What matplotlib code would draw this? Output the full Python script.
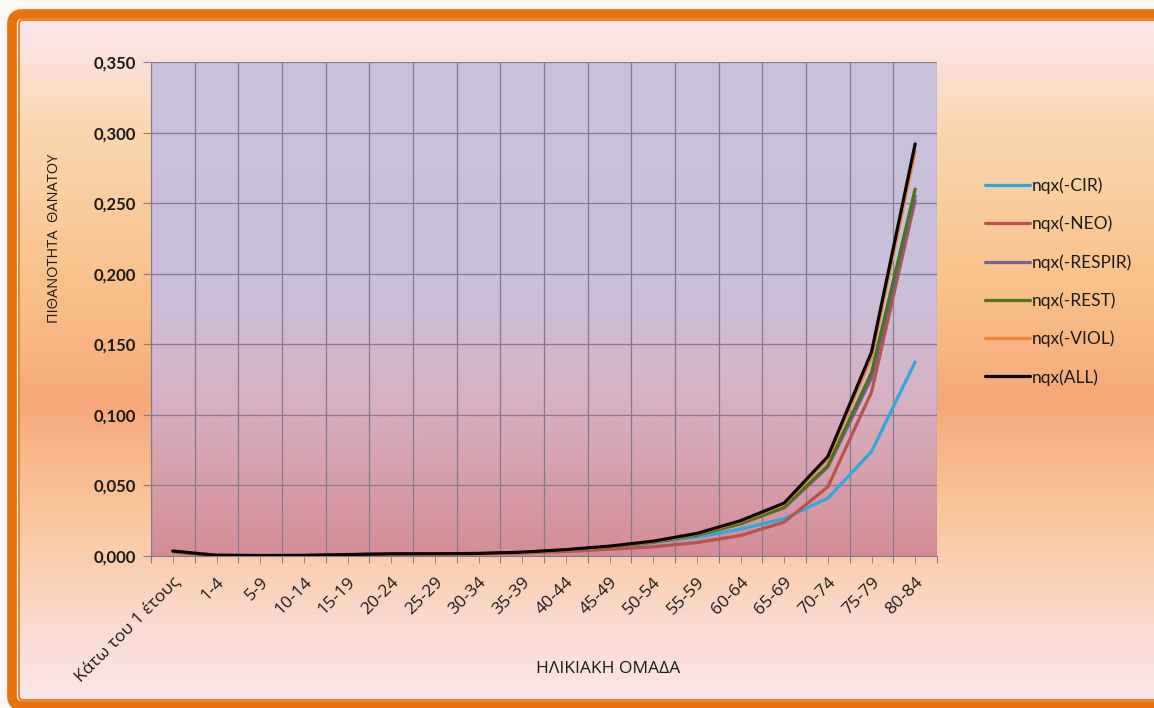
import numpy as np
import matplotlib
matplotlib.use("Agg")
import matplotlib.pyplot as plt
from matplotlib.colors import LinearSegmentedColormap
from matplotlib.patches import FancyBboxPatch

# ---------------- data ----------------
categories = ["Κάτω του 1 έτους", "1-4", "5-9", "10-14", "15-19", "20-24", "25-29",
              "30-34", "35-39", "40-44", "45-49", "50-54", "55-59", "60-64",
              "65-69", "70-74", "75-79", "80-84"]
cir = [0.0034, 0.0005, 0.0003, 0.0004, 0.0010, 0.0015, 0.0016, 0.0017, 0.0023,
       0.0038, 0.0060, 0.0095, 0.0135, 0.0190, 0.0265, 0.0410, 0.0740, 0.1375]
neo = [0.0034, 0.0004, 0.0002, 0.0003, 0.0009, 0.0014, 0.0015, 0.0016, 0.0022,
       0.0032, 0.0048, 0.0065, 0.0095, 0.0145, 0.0240, 0.0490, 0.1160, 0.2520]
respir = [0.0034, 0.0005, 0.0003, 0.0004, 0.0010, 0.0015, 0.0016, 0.0018, 0.0026,
          0.0043, 0.0066, 0.0099, 0.0150, 0.0232, 0.0340, 0.0630, 0.1260, 0.2550]
rest = [0.0030, 0.0004, 0.0002, 0.0003, 0.0009, 0.0014, 0.0015, 0.0017, 0.0025,
        0.0042, 0.0065, 0.0098, 0.0148, 0.0228, 0.0345, 0.0640, 0.1300, 0.2600]
viol = [0.0034, 0.0004, 0.0002, 0.0003, 0.0006, 0.0009, 0.0011, 0.0014, 0.0024,
        0.0042, 0.0067, 0.0102, 0.0156, 0.0245, 0.0368, 0.0690, 0.1410, 0.2870]
all_ = [0.0035, 0.0005, 0.0003, 0.0004, 0.0010, 0.0015, 0.0016, 0.0018, 0.0027,
        0.0045, 0.0070, 0.0105, 0.0160, 0.0250, 0.0375, 0.0705, 0.1445, 0.2920]
series_names = ["nqx(-CIR)", "nqx(-NEO)", "nqx(-RESPIR)", "nqx(-REST)", "nqx(-VIOL)", "nqx(ALL)"]
series_values = [cir, neo, respir, rest, viol, all_]
series_colors = ["#2CA9DF", "#B9514C", "#76608F", "#4E7419", "#E8873A", "#0A0505"]
y_ticks = [0.0, 0.05, 0.10, 0.15, 0.20, 0.25, 0.30, 0.35]

W, H = 1154, 708
fig = plt.figure(figsize=(W / 100, H / 100), dpi=100)
fig.patch.set_facecolor("#FBF7F2")

# ---------------- decorative background (pixel coordinates) ----------------
bg = fig.add_axes([0, 0, 1, 1], zorder=-10)
bg.set_xlim(0, W)
bg.set_ylim(H, 0)
bg.axis("off")

panel_stops = [(0.0, "#FDE6EE"), (0.17, "#FAD6AE"), (0.40, "#F9C088"),
               (0.56, "#F6A87A"), (0.73, "#F9C79C"), (0.91, "#FBDCD6"), (1.0, "#FCE6E8")]
panel_cmap = LinearSegmentedColormap.from_list("panel", panel_stops)
grad = np.linspace(0, 1, 256).reshape(-1, 1)
bg.imshow(grad, cmap=panel_cmap, aspect="auto", extent=(20, W + 20, 701, 20),
          interpolation="bicubic", zorder=0)

# orange frame (cropped on the right)
frame = FancyBboxPatch((12, 14), W + 40, 692, boxstyle="round,pad=0,rounding_size=10",
                       fill=False, edgecolor="#E8720F", linewidth=7, zorder=2)
bg.add_patch(frame)
frame2 = FancyBboxPatch((19, 20), W + 40, 680, boxstyle="round,pad=0,rounding_size=4",
                        fill=False, edgecolor="#E8720F", linewidth=1.2, zorder=2)
bg.add_patch(frame2)

# ---------------- chart ----------------
left, right, top, bottom = 151, 937, 62, 556
ax = fig.add_axes([left / W, 1 - bottom / H, (right - left) / W, (bottom - top) / H])
ax.set_facecolor("none")

plot_stops = [(0.0, "#C9C1DD"), (0.45, "#CABFDB"), (0.68, "#D6B2C4"), (1.0, "#D68C95")]
plot_cmap = LinearSegmentedColormap.from_list("plot", plot_stops)
ax.imshow(grad, cmap=plot_cmap, aspect="auto", extent=(0, 1, 0, 1),
          transform=ax.transAxes, interpolation="bicubic", zorder=0)

x = np.arange(len(categories))
for name, vals, col in zip(series_names, series_values, series_colors):
    ax.plot(x, vals, color=col, linewidth=2.3, label=name, zorder=3,
            solid_joinstyle="round", solid_capstyle="round")

ax.set_xlim(-0.5, len(categories) - 0.5)
ax.set_ylim(0, 0.35)

ax.set_yticks(y_ticks)
ax.set_yticklabels([f"{v:.3f}".replace(".", ",") for v in y_ticks])
ax.set_xticks(np.arange(len(categories) + 1) - 0.5)
ax.set_xticklabels([])
ax.set_xticks(x, minor=True)
ax.set_xticklabels(categories, minor=True, rotation=45, ha="right", va="top",
                   rotation_mode="anchor")

ax.grid(True, which="major", color="#857A8C", linewidth=0.9, zorder=1)
ax.set_axisbelow(True)
for s in ["top", "right"]:
    ax.spines[s].set_visible(False)
ax.spines["left"].set_color("#857A8C")
ax.spines["bottom"].set_color("#857A8C")

ax.tick_params(axis="y", which="major", length=6, color="#857A8C", pad=5,
               labelsize=12, labelcolor="#1A1A1A")
ax.tick_params(axis="x", which="both", length=5, color="#857A8C", direction="out")
ax.tick_params(axis="x", which="minor", pad=8, labelsize=12.5, labelcolor="#1A1A1A")

for lab in ax.get_yticklabels():
    lab.set_fontfamily(["Lato", "DejaVu Sans"])
    lab.set_fontweight("bold")
for lab in ax.get_xticklabels(minor=True):
    lab.set_fontfamily(["Open Sans", "DejaVu Sans"])

fig.text(55 / W, 1 - 238 / H, "ΠΙΘΑΝΟΤΗΤΑ  ΘΑΝΑΤΟΥ", rotation=90, ha="center", va="center",
         fontsize=10.5, color="#1A1A1A", family=["Open Sans", "DejaVu Sans"])
fig.text(608 / W, 1 - 669 / H, "ΗΛΙΚΙΑΚΗ ΟΜΑΔΑ", ha="center", va="center",
         fontsize=12.5, color="#1A1A1A", family=["Open Sans", "DejaVu Sans"])

leg = fig.legend(loc="upper left", bbox_to_anchor=(969 / W, 1 - 162 / H), frameon=False,
                 handlelength=2.6, handletextpad=0.1, labelspacing=1.25,
                 prop={"family": ["Lato", "DejaVu Sans"], "size": 12.5})
for t in leg.get_texts():
    t.set_color("#1A1A1A")

fig.savefig("out.png", dpi=100, facecolor=fig.get_facecolor())
